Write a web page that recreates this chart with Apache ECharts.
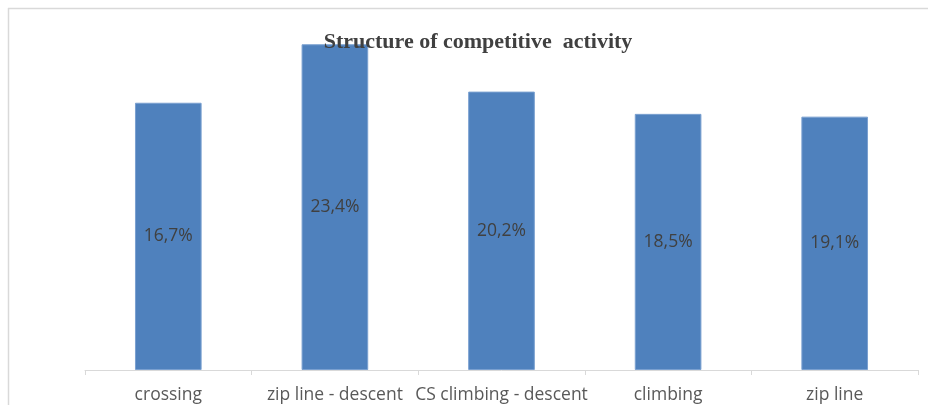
<!DOCTYPE html>
<html>
<head>
<meta charset="utf-8">
<script src="https://cdn.jsdelivr.net/npm/echarts@6/dist/echarts.min.js"></script>
<style>
html,body{margin:0;padding:0;background:#ffffff;}
#chart{width:928px;height:405px;}
</style>
</head>
<body>
<div id="chart"></div>
<script>
var categories = ["crossing", "zip line - descent", "CS climbing - descent", "climbing", "zip line"];
var barValues = [19.2, 23.4, 20.0, 18.4, 18.2];
var barLabels = ["16,7%", "23,4%", "20,2%", "18,5%", "19,1%"];
var titleText = "Structure of competitive  activity";

var chart = echarts.init(document.getElementById('chart'));
chart.setOption({
  backgroundColor: '#ffffff',
  animation: false,
  title: {
    text: titleText,
    left: 473,
    top: 26,
    textAlign: 'center',
    textStyle: {
      fontFamily: 'Liberation Serif',
      fontWeight: 'bold',
      fontSize: 22,
      color: '#404040'
    }
  },
  graphic: [
    { type: 'line', z: 100, shape: { x1: 8, y1: 8.5, x2: 928, y2: 8.5 }, style: { stroke: '#d9d9d9', lineWidth: 1.5 } },
    { type: 'line', z: 100, shape: { x1: 8.5, y1: 8, x2: 8.5, y2: 405 }, style: { stroke: '#d9d9d9', lineWidth: 1.5 } }
  ],
  grid: { left: 85, right: 10, top: 22, bottom: 35 },
  xAxis: {
    type: 'category',
    data: categories,
    boundaryGap: true,
    axisLine: { lineStyle: { color: '#d9d9d9', width: 1 } },
    axisTick: { show: true, length: 5, lineStyle: { color: '#d9d9d9' } },
    axisLabel: {
      margin: 16,
      fontFamily: 'Open Sans',
      fontSize: 17.5,
      color: '#595959',
      interval: 0
    }
  },
  yAxis: {
    type: 'value',
    min: 0,
    max: 25,
    show: false,
    splitLine: { show: false }
  },
  series: [{
    type: 'bar',
    data: barValues,
    barWidth: '40%',
    itemStyle: { color: '#4f81bd', borderColor: '#7aa0d0', borderWidth: 1 },
    label: {
      show: true,
      position: 'inside',
      fontFamily: 'Open Sans',
      fontSize: 17.5,
      color: '#404040',
      formatter: function (p) { return barLabels[p.dataIndex]; }
    }
  }]
});
</script>
</body>
</html>
